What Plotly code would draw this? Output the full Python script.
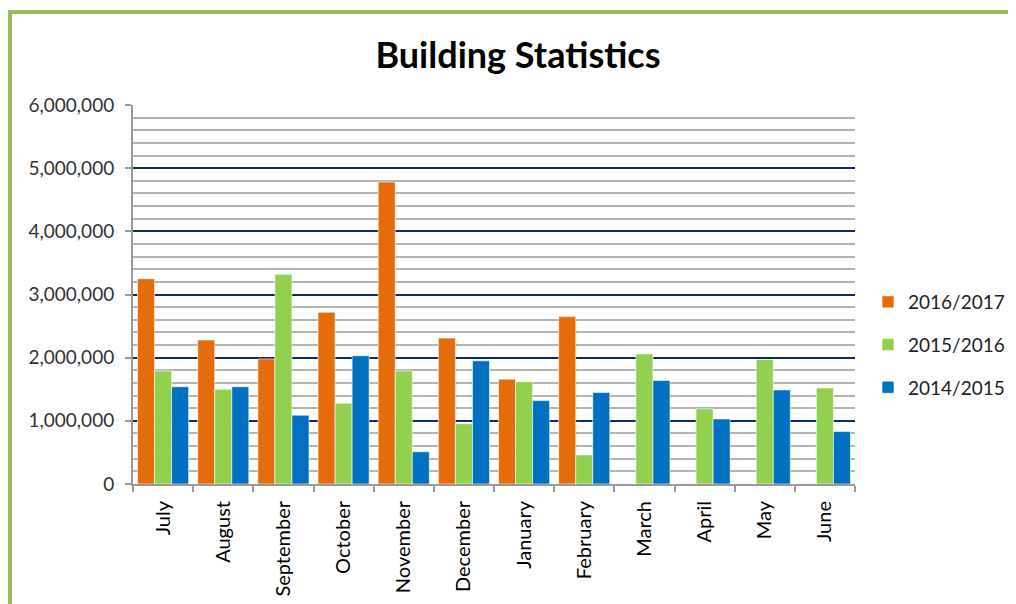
import plotly.graph_objects as go

months = ["July", "August", "September", "October", "November", "December",
          "January", "February", "March", "April", "May", "June"]
s2016_2017 = [3250000, 2280000, 1980000, 2720000, 4780000, 2310000,
              1660000, 2650000, None, None, None, None]
s2015_2016 = [1790000, 1500000, 3320000, 1280000, 1790000, 955000,
              1620000, 460000, 2060000, 1190000, 1970000, 1520000]
s2014_2015 = [1540000, 1540000, 1090000, 2030000, 510000, 1950000,
              1320000, 1450000, 1640000, 1030000, 1490000, 830000]
series_names = ["2016/2017", "2015/2016", "2014/2015"]
colors = ["#E46C0A", "#92D050", "#0070C0"]

# page body has an 8px margin, so the figure is placed 8px in from the top-left
OFF = 8
W, H = 1016 - OFF, 604 - OFF
L, R, T, B = 133 - OFF, 855 - OFF, 105 - OFF, 484 - OFF

fig = go.Figure()
for i, (name, vals) in enumerate(zip(series_names, [s2016_2017, s2015_2016, s2014_2015])):
    fig.add_trace(go.Bar(
        x=months, y=vals, name=name, legendgroup=name,
        marker=dict(color=colors[i], line=dict(color="rgba(255,255,255,0.6)", width=1)),
    ))

def px_x(p):
    return (p - OFF - L) / (R - L)

def px_y(p):
    return (B - (p - OFF)) / (B - T)

border = "#9BBB59"
fig.add_shape(type="line", xref="paper", yref="paper",
              x0=px_x(7), x1=px_x(1030), y0=px_y(12), y1=px_y(12),
              line=dict(color=border, width=4))
fig.add_shape(type="line", xref="paper", yref="paper",
              x0=px_x(9.7), x1=px_x(9.7), y0=px_y(10), y1=px_y(620),
              line=dict(color=border, width=4.5))

fig.update_layout(
    width=W, height=H,
    margin=dict(l=L, r=W - R, t=T, b=H - B, autoexpand=False),
    paper_bgcolor="white", plot_bgcolor="white",
    barmode="group", bargap=0.15, bargroupgap=0,
    title=dict(text="<b>Building Statistics</b>", x=(518 - OFF) / W, xanchor="center",
               y=1 - (55 - OFF) / H, yanchor="middle",
               font=dict(family="Lato", size=36, color="black")),
    font=dict(family="Lato"),
    legend=dict(x=px_x(868), xanchor="left", y=px_y(345), yanchor="middle",
                font=dict(size=19, color="#222"), tracegroupgap=15,
                itemwidth=30, bgcolor="rgba(0,0,0,0)"),
    showlegend=True,
)
fig.update_yaxes(
    range=[0, 6000000], dtick=1000000, tickformat=",d",
    showgrid=True, gridcolor="#0B2A6B", gridwidth=2,
    minor=dict(dtick=200000, showgrid=True, gridcolor="#B4B4B4", gridwidth=2, ticks=""),
    showline=True, linecolor="#9A9A9A", linewidth=2,
    ticks="outside", ticklen=6, tickcolor="#9A9A9A", tickwidth=2,
    ticklabelstandoff=7,
    tickfont=dict(size=19, color="#333"), zeroline=False,
)
fig.update_xaxes(
    type="category", tickangle=-90, tickson="boundaries",
    showline=True, linecolor="#9A9A9A", linewidth=2,
    ticks="outside", ticklen=6, tickcolor="#9A9A9A", tickwidth=2,
    ticklabelstandoff=7,
    tickfont=dict(size=20, color="black"), showgrid=False,
)

fig.write_html("out.html")
